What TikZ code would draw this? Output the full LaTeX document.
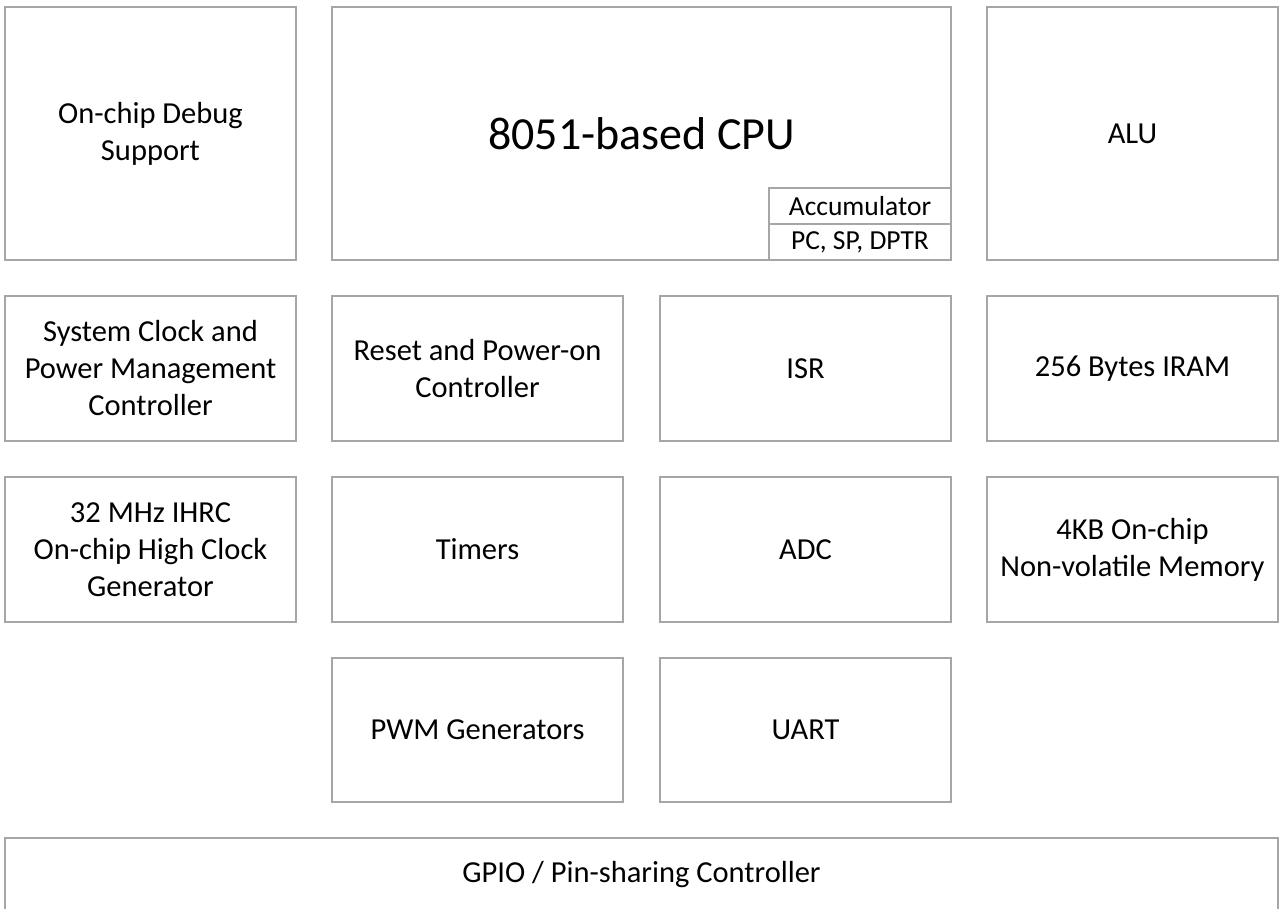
\documentclass[tikz,border=0pt]{standalone}
\usepackage{fontspec}
\setmainfont{Carlito}
\definecolor{edge}{HTML}{A6A6A6}
\begin{document}
\begin{tikzpicture}[x=1pt,y=-1pt,
  blk/.style={draw=edge,line width=1.3pt,rectangle,inner sep=0pt,align=center,
    font=\fontsize{30.5}{37}\selectfont,text=black},
  cell/.style={blk,minimum width=291pt,minimum height=145pt},
  reg/.style={blk,minimum width=182pt,minimum height=36pt,font=\fontsize{27.5}{33}\selectfont}]
\useasboundingbox (0,0) rectangle (1280,909);
\fill[white] (0,0) rectangle (1280,909);
\begin{scope}
\clip (0,0) rectangle (1280,909);
% row 1
\node[cell,minimum height=253pt] (dbg) at (150.5,133.5) {On-chip Debug\\Support};
\node[blk,minimum width=619pt,minimum height=253pt] (cpu) at (641.5,133.5) {};
\node[font=\fontsize{46}{55}\selectfont] (cput) at (641.5,134) {8051-based CPU};
\node[reg] (acc) at (860,206) {Accumulator};
\node[reg] (pcr) at (860,242) {PC, SP, DPTR};
\node[cell,minimum height=253pt] (alu) at (1132.5,133.5) {ALU};
% row 2
\node[cell] (clk) at (150.5,368.5) {System Clock and\\Power Management\\Controller};
\node[cell] (rst) at (477.5,368.5) {Reset and Power-on\\Controller};
\node[cell] (isr) at (805.5,368.5) {ISR};
\node[cell] (iram) at (1132.5,368.5) {256 Bytes IRAM};
% row 3
\node[cell] (ihrc) at (150.5,549.5) {32 MHz IHRC\\On-chip High Clock\\Generator};
\node[cell] (tmr) at (477.5,549.5) {Timers};
\node[cell] (adc) at (805.5,549.5) {ADC};
\node[cell] (nvm) at (1132.5,549.5) {4KB On-chip\\Non-volatile Memory};
% row 4
\node[cell,minimum height=144pt] (pwm) at (477.5,730) {PWM Generators};
\node[cell,minimum height=144pt] (uart) at (805.5,730) {UART};
% GPIO
\node[blk,minimum width=1273pt,minimum height=74pt] (gpio) at (641.5,875) {GPIO / Pin-sharing Controller};
\end{scope}
\end{tikzpicture}
\end{document}
